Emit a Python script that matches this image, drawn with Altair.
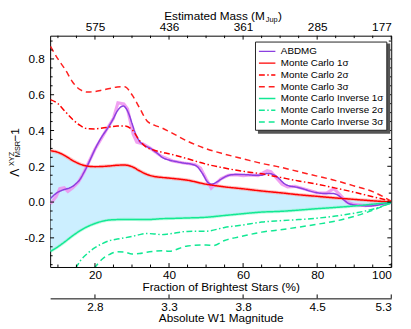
import altair as alt
import pandas as pd

# ---------------- data ----------------
X_MC = [8, 10, 12, 14, 16, 18, 20, 22, 24, 26, 28, 30, 32, 34, 36, 38, 40,
        45, 50, 55, 60, 65, 70, 75, 80, 85, 90, 95, 100]
MC1 = [0.287, 0.278, 0.258, 0.232, 0.212, 0.201, 0.198, 0.199, 0.202, 0.206, 0.207,
       0.198, 0.175, 0.155, 0.143, 0.138, 0.134, 0.122, 0.100, 0.085, 0.074, 0.062,
       0.052, 0.041, 0.032, 0.023, 0.015, 0.007, 0.000]
MC2 = [0.573, 0.550, 0.505, 0.462, 0.428, 0.410, 0.409, 0.414, 0.420, 0.425, 0.425,
       0.405, 0.345, 0.305, 0.290, 0.279, 0.270, 0.242, 0.212, 0.190, 0.172, 0.158,
       0.138, 0.118, 0.100, 0.078, 0.055, 0.030, 0.005]
MC3 = [0.870, 0.800, 0.740, 0.670, 0.628, 0.615, 0.618, 0.626, 0.635, 0.643, 0.645,
       0.600, 0.528, 0.455, 0.430, 0.415, 0.395, 0.340, 0.298, 0.268, 0.242, 0.216,
       0.195, 0.170, 0.145, 0.120, 0.090, 0.058, 0.005]
INV1 = [-0.276, -0.250, -0.220, -0.188, -0.160, -0.137, -0.120, -0.107, -0.100, -0.098,
        -0.097, -0.097, -0.098, -0.098, -0.096, -0.093, -0.092, -0.089, -0.085, -0.075,
        -0.065, -0.056, -0.052, -0.045, -0.037, -0.030, -0.022, -0.012, -0.002]
X_INV2 = [14.8, 16, 18, 20, 22, 24, 26, 28, 30, 32, 34, 36, 38, 40, 45, 50, 55, 60,
          65, 70, 75, 80, 85, 90, 95, 100]
INV2 = [-0.370, -0.330, -0.287, -0.255, -0.232, -0.215, -0.207, -0.200, -0.192, -0.182,
        -0.176, -0.178, -0.182, -0.178, -0.164, -0.163, -0.142, -0.128, -0.112, -0.104,
        -0.098, -0.090, -0.078, -0.062, -0.040, -0.005]
X_INV3 = [19.8, 22, 24, 26, 28, 30, 32, 34, 36, 38, 40, 45, 50, 52, 55, 60, 65, 70,
          75, 80, 85, 90, 95, 100]
INV3 = [-0.370, -0.318, -0.292, -0.278, -0.280, -0.290, -0.288, -0.280, -0.275, -0.272,
        -0.275, -0.245, -0.240, -0.243, -0.215, -0.190, -0.168, -0.155, -0.140, -0.124,
        -0.106, -0.080, -0.046, -0.005]
X_ABDMG = [8, 9, 10, 11, 12, 13, 14, 15, 16, 17, 18, 19, 20, 21, 22, 23, 24, 25, 26,
           27, 27.6, 28.5, 29.2, 30, 31, 32, 33, 34, 35, 36, 37, 38, 40, 42, 44, 46,
           47.5, 49, 50.5, 51.5, 52.5, 54, 55.5, 57, 59, 61, 63, 65, 66.5, 68, 69.5,
           71, 72.5, 74, 76, 78, 80, 82, 84, 85.5, 87, 88.5, 90, 92, 94, 96, 98, 100]
ABDMG = [0.020, 0.040, 0.055, 0.065, 0.072, 0.078, 0.088, 0.105, 0.128, 0.165, 0.205,
         0.250, 0.295, 0.335, 0.370, 0.400, 0.432, 0.468, 0.508, 0.532, 0.537, 0.520,
         0.490, 0.440, 0.380, 0.340, 0.322, 0.310, 0.300, 0.285, 0.270, 0.252, 0.235,
         0.226, 0.218, 0.212, 0.200, 0.160, 0.110, 0.100, 0.107, 0.127, 0.145, 0.153,
         0.154, 0.153, 0.150, 0.150, 0.160, 0.155, 0.135, 0.105, 0.090, 0.085, 0.075,
         0.062, 0.052, 0.048, 0.048, 0.040, 0.015, -0.008, -0.016, -0.020, -0.022,
         -0.018, -0.010, -0.003]
X_RAW = [8, 9.5, 10.5, 11.7, 12.7, 14, 15.5, 17, 20, 23, 25, 26.2, 27.8, 28.8, 30.3,
         31.3, 33, 35, 38, 41, 44, 47, 48.5, 50, 51.4, 52.5, 54, 56, 58, 60, 62, 64,
         66.5, 67.5, 69, 70.5, 72, 74, 77, 80, 82.5, 84.5, 86, 88, 90, 93, 96, 100]
RAW = [-0.010, 0.030, 0.075, 0.080, 0.060, 0.080, 0.110, 0.165, 0.295, 0.400, 0.468,
       0.555, 0.548, 0.520, 0.380, 0.335, 0.325, 0.300, 0.255, 0.230, 0.218, 0.210,
       0.190, 0.130, 0.078, 0.100, 0.130, 0.150, 0.153, 0.148, 0.152, 0.148, 0.175,
       0.170, 0.135, 0.100, 0.085, 0.088, 0.070, 0.052, 0.050, 0.075, 0.045, 0.000,
       -0.013, -0.020, -0.015, -0.003]

SERIES = ["ABDMG", "Monte Carlo 1σ", "Monte Carlo 2σ", "Monte Carlo 3σ",
          "Monte Carlo Inverse 1σ", "Monte Carlo Inverse 2σ", "Monte Carlo Inverse 3σ"]
COLORS = ["#8b3fe0", "#ff0000", "#ff0000", "#ff2020", "#12e894", "#12e894", "#12e894"]
DASHES = [[1, 0], [1, 0], [6, 2.5, 1.5, 2.5], [6, 4], [1, 0], [6, 2.5, 1.5, 2.5], [6, 4]]

FRACTION_TICKS = [20, 40, 60, 80, 100]
MASS_LABELS = ["575", "436", "361", "285", "177"]
MAG_LABELS = ["2.8", "3.3", "3.8", "4.5", "5.3"]
Y_TICKS = [-0.2, 0.0, 0.2, 0.4, 0.6, 0.8]
X_MINOR = [v for v in range(10, 100, 5) if v not in FRACTION_TICKS]
Y_MINOR = [round(-0.35 + 0.05 * i, 2) for i in range(26) if round((-0.35 + 0.05 * i) / 0.2, 6) % 1 != 0]

# ---------------- layout ----------------
W, H = 348, 236
FONT = "Liberation Sans"
FILL = "#ccefff"
xs = alt.Scale(domain=[7.9, 100], nice=False, zero=False)
ys = alt.Scale(domain=[-0.363, 0.93], nice=False, zero=False)

rows = []
def add(name, xv, yv):
    for a, b in zip(xv, yv):
        rows.append({"series": name, "x": a, "y": b})
add("ABDMG", X_ABDMG, ABDMG)
add(SERIES[1], X_MC, MC1)
add(SERIES[2], X_MC, MC2)
add(SERIES[3], X_MC, MC3)
add(SERIES[4], X_MC, INV1)
add(SERIES[5], X_INV2, INV2)
add(SERIES[6], X_INV3, INV3)
lines_df = pd.DataFrame(rows)
band_df = pd.DataFrame({"x": X_MC, "hi": MC1, "lo": INV1})
raw_df = pd.DataFrame({"x": X_RAW, "y": RAW})

def case_expr(keys, labels):
    parts = [f"datum.value == {k} ? '{l}'" for k, l in zip(keys, labels)]
    return " : ".join(parts) + " : ''"

NOX = alt.X("x:Q", scale=xs, axis=None)
NOY = alt.Y("y:Q", scale=ys, axis=None)

band = alt.Chart(band_df).mark_area(color=FILL, interpolate="monotone", clip=True).encode(
    x=alt.X("x:Q", scale=xs, axis=alt.Axis(
        orient="bottom", values=FRACTION_TICKS, ticks=False, domain=False, grid=False,
        labelPadding=3, labelFlush=True, title="Fraction of Brightest Stars (%)",
        titlePadding=1)),
    y=alt.Y("hi:Q", scale=ys, axis=alt.Axis(
        values=Y_TICKS, ticks=False, domain=False, grid=False, labelPadding=6,
        labelExpr="replace(format(datum.value, '.1f'), '\u2212', '-')", title=None)),
    y2="lo:Q",
)

halo_red = alt.Chart(band_df).mark_line(color="#ff9a9a", strokeWidth=3.5, opacity=0.6,
                                        interpolate="monotone", clip=True).encode(
    x=NOX, y=alt.Y("hi:Q", scale=ys, axis=None))
halo_green = alt.Chart(band_df).mark_line(color="#8af5c8", strokeWidth=3.2, opacity=0.5,
                                          interpolate="monotone", clip=True).encode(
    x=NOX, y=alt.Y("lo:Q", scale=ys, axis=None))
raw = alt.Chart(raw_df).mark_line(color="#ee90ee", strokeWidth=3.2, opacity=0.85,
                                  clip=True).encode(x=NOX, y=NOY)

leg = alt.Legend(title=None, orient="none", legendX=209, legendY=6)
lines = alt.Chart(lines_df).mark_line(strokeWidth=1.5, interpolate="monotone", clip=True).encode(
    x=NOX, y=NOY,
    color=alt.Color("series:N", scale=alt.Scale(domain=SERIES, range=COLORS), legend=leg),
    strokeDash=alt.StrokeDash("series:N", scale=alt.Scale(domain=SERIES, range=DASHES), legend=leg),
    detail="series:N",
)

xmaj = pd.DataFrame({"v": FRACTION_TICKS})
xmin = pd.DataFrame({"v": X_MINOR})
ymaj = pd.DataFrame({"v": Y_TICKS})
ymin = pd.DataFrame({"v": Y_MINOR})
TK = dict(color="black", strokeWidth=1)

top_major = alt.Chart(xmaj).mark_rule(**TK).encode(
    x=alt.X("v:Q", scale=xs, axis=alt.Axis(
        orient="top", values=FRACTION_TICKS, labelExpr=case_expr(FRACTION_TICKS, MASS_LABELS),
        ticks=False, domain=False, grid=False, labelPadding=2, title=None)),
    y=alt.value(0), y2=alt.value(4))
bot_major = alt.Chart(xmaj).mark_rule(**TK).encode(
    x=alt.X("v:Q", scale=xs, axis=None), y=alt.value(H - 4), y2=alt.value(H))
mag_major = alt.Chart(xmaj).mark_rule(**TK).encode(
    x=alt.X("v:Q", scale=xs, axis=alt.Axis(
        orient="bottom", offset=32, values=FRACTION_TICKS,
        labelExpr=case_expr(FRACTION_TICKS, MAG_LABELS), ticks=False, domain=True,
        domainColor="black", domainWidth=1, grid=False, labelPadding=3, labelFlush=True,
        title="Absolute W1 Magnitude", titlePadding=1)),
    y=alt.value(H + 28), y2=alt.value(H + 32))
top_minor = alt.Chart(xmin).mark_rule(**TK).encode(
    x=alt.X("v:Q", scale=xs, axis=None), y=alt.value(0), y2=alt.value(2.5))
bot_minor = alt.Chart(xmin).mark_rule(**TK).encode(
    x=alt.X("v:Q", scale=xs, axis=None), y=alt.value(H - 2.5), y2=alt.value(H))
left_major = alt.Chart(ymaj).mark_rule(**TK).encode(
    y=alt.Y("v:Q", scale=ys, axis=None), x=alt.value(0), x2=alt.value(4))
right_major = alt.Chart(ymaj).mark_rule(**TK).encode(
    y=alt.Y("v:Q", scale=ys, axis=None), x=alt.value(W - 4), x2=alt.value(W))
left_minor = alt.Chart(ymin).mark_rule(**TK).encode(
    y=alt.Y("v:Q", scale=ys, axis=None), x=alt.value(0), x2=alt.value(2.5))
right_minor = alt.Chart(ymin).mark_rule(**TK).encode(
    y=alt.Y("v:Q", scale=ys, axis=None), x=alt.value(W - 2.5), x2=alt.value(W))

one = pd.DataFrame({"a": [0]})
def txt(s, x, y, size, angle=0, align="left"):
    kw = dict(font=FONT, fontSize=size, color="black", align=align, baseline="alphabetic")
    if angle:
        kw["angle"] = angle
    return alt.Chart(one).mark_text(**kw).encode(
        x=alt.value(x), y=alt.value(y), text=alt.value(s))

titles = [
    txt("Λ", -32, 144, 12.5, 270),
    txt("XYZ", -37, 133, 7.5, 270),
    txt("MSR", -30.5, 124, 7.5, 270),
    txt("\u22121", -32, 108, 12, 270),
    txt("Estimated Mass (M", 219, -16, 12, 0, "right"),
    txt("Jup", 220, -14, 7.5),
    txt(")", 232.5, -16, 12),
]

# drop shadow of the legend box
shadow = alt.Chart(one).mark_rect(color="#555555").encode(
    x=alt.value(212), x2=alt.value(347), y=alt.value(8), y2=alt.value(100))

chart = alt.layer(
    band, halo_red, halo_green, raw, lines,
    top_major, bot_major, mag_major, top_minor, bot_minor,
    left_major, right_major, left_minor, right_minor, shadow, *titles,
).resolve_axis(x="independent", y="independent").properties(
    width=W, height=H,
    autosize=alt.AutoSizeParams(type="none"),
    padding={"left": 43, "top": 25, "right": 12, "bottom": 60},
).configure_view(stroke="black", strokeWidth=1).configure_axis(
    labelFont=FONT, titleFont=FONT, labelFontSize=12, titleFontSize=12,
    titleFontWeight="normal", labelColor="black", titleColor="black",
).configure_legend(
    labelFont=FONT, labelFontSize=10, labelColor="black", symbolType="M-1.4,0H1.4",
    symbolSize=144, symbolStrokeWidth=1.5, symbolOffset=2.4, fillColor="white",
    strokeColor="#222222", padding=3, rowPadding=0, labelOffset=7, cornerRadius=0,
)

chart.save("out.html", embed_options={"renderer": "svg", "actions": False})
